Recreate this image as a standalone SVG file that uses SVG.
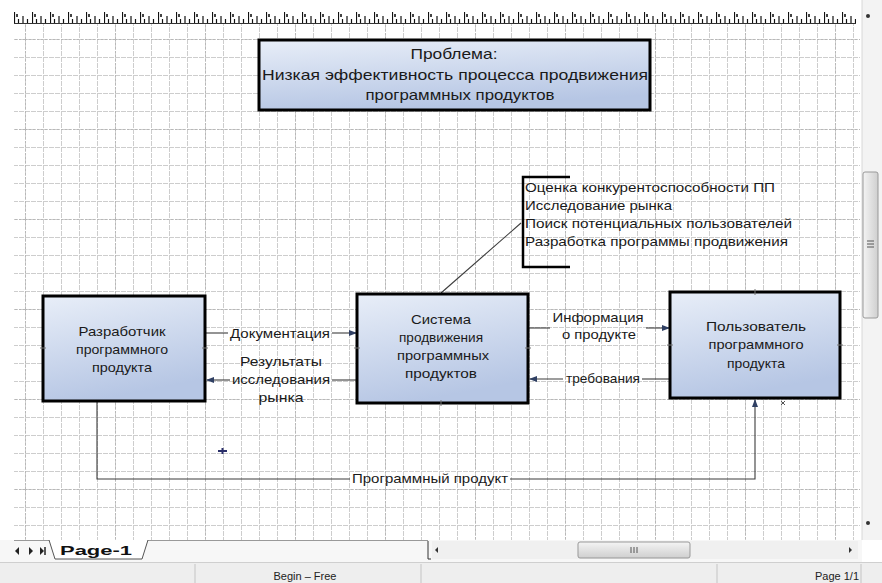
<svg xmlns="http://www.w3.org/2000/svg" width="882" height="583" viewBox="0 0 882 583">
  <defs>
    <style>
      .t { font-family: "Liberation Sans", Arial, sans-serif; font-size: 13px; fill: #1a1a1a; }
      .tb { font-family: "Liberation Sans", Arial, sans-serif; font-size: 15px; fill: #1a1a1a; }
      .box { fill: url(#boxGrad); stroke: #000; stroke-width: 3; }
      .conn { fill: none; stroke: #3c3c3c; stroke-width: 1.1; }
      .cp { stroke: #777; stroke-width: 1; }
      .ui { font-family: "Liberation Sans", Arial, sans-serif; font-size: 11px; fill: #222; }
    </style>
    <linearGradient id="boxGrad" x1="0" y1="0" x2="0.3" y2="1">
      <stop offset="0" stop-color="#e8eef8"/>
      <stop offset="1" stop-color="#b6c6e4"/>
    </linearGradient>
    <linearGradient id="thumbH" x1="0" y1="0" x2="0" y2="1">
      <stop offset="0" stop-color="#f4f4f4"/>
      <stop offset="1" stop-color="#cfcfcf"/>
    </linearGradient>
    <linearGradient id="thumbV" x1="0" y1="0" x2="1" y2="0">
      <stop offset="0" stop-color="#f4f4f4"/>
      <stop offset="1" stop-color="#cfcfcf"/>
    </linearGradient>
    <pattern id="grid" x="25" y="39" width="18" height="18" patternUnits="userSpaceOnUse">
      <path d="M0.5,0 V18 M0,0.5 H18" stroke="#cdcdcd" stroke-width="1" stroke-dasharray="5,1" fill="none"/>
    </pattern>
    <pattern id="gridMajor" x="25" y="39" width="90" height="90" patternUnits="userSpaceOnUse">
      <path d="M0.5,0 V90 M0,0.5 H90" stroke="#b8b8b8" stroke-width="1" stroke-dasharray="2,2" fill="none"/>
    </pattern>
    <pattern id="ruler" x="14" y="12" width="18" height="12" patternUnits="userSpaceOnUse">
      <path d="M0.5,0 V11 M4.5,7 V11 M9,4 V11 M13.5,7 V11" stroke="#111" stroke-width="1.2" fill="none"/>
      <path d="M2,2 h2 v3 h-2z" fill="#444"/>
    </pattern>
    <marker id="arr" markerWidth="8" markerHeight="8" refX="7" refY="4" orient="auto" markerUnits="userSpaceOnUse">
      <path d="M0,1 L8,4 L0,7 z" fill="#2f3f63"/>
    </marker>
  </defs>

  <!-- background -->
  <rect x="0" y="0" width="882" height="583" fill="#ffffff"/>
  <rect x="14" y="24" width="846" height="516" fill="url(#grid)"/>
  <rect x="14" y="24" width="846" height="516" fill="url(#gridMajor)"/>
  <!-- ruler -->
  <rect x="14" y="12" width="842" height="12" fill="url(#ruler)"/>
  <line x1="14" y1="23.5" x2="856" y2="23.5" stroke="#333" stroke-width="1"/>

  <!-- right scrollbar -->
  <g id="vscroll">
    <rect x="862" y="0" width="20" height="540" fill="#f3f3f3"/>
    <line x1="862" y1="0" x2="862" y2="540" stroke="#d8d8d8"/>
    <circle cx="868" cy="16" r="2" fill="#333"/>
    <rect x="863" y="172" width="15" height="146" rx="2" fill="url(#thumbV)" stroke="#999"/>
    <path d="M867,241 h7 M867,244 h7 M867,247 h7" stroke="#555" stroke-width="1"/>
    <circle cx="868" cy="523" r="2" fill="#333"/>
  </g>

  <!-- connectors -->
  <g id="connectors">
    <line class="conn" x1="206" y1="333" x2="228" y2="333"/>
    <line class="conn" x1="332" y1="333" x2="356" y2="333" marker-end="url(#arr)"/>
    <line class="conn" x1="356" y1="380" x2="332" y2="380"/>
    <line class="conn" x1="230" y1="380" x2="207" y2="380" marker-end="url(#arr)"/>
    <line class="conn" x1="529" y1="328" x2="550" y2="328"/>
    <line class="conn" x1="646" y1="328" x2="669" y2="328" marker-end="url(#arr)"/>
    <line class="conn" x1="669" y1="379" x2="642" y2="379"/>
    <line class="conn" x1="563" y1="379" x2="530" y2="379" marker-end="url(#arr)"/>
    <path class="conn" d="M97,402 V479 H350"/>
    <path class="conn" d="M510,479 H755 V400" marker-end="url(#arr)"/>
    <line class="conn" x1="441" y1="293" x2="521" y2="223"/>
  </g>

  <!-- connector labels -->
  <g id="labels">
    <text class="t" x="280" y="338" text-anchor="middle" textLength="100" lengthAdjust="spacingAndGlyphs">Документация</text>
    <text class="t" x="281" y="366" text-anchor="middle" textLength="82" lengthAdjust="spacingAndGlyphs">Результаты</text>
    <text class="t" x="281" y="384" text-anchor="middle" textLength="98" lengthAdjust="spacingAndGlyphs">исследования</text>
    <text class="t" x="281" y="402" text-anchor="middle" textLength="45" lengthAdjust="spacingAndGlyphs">рынка</text>
    <text class="t" x="598" y="322" text-anchor="middle" textLength="91" lengthAdjust="spacingAndGlyphs">Информация</text>
    <text class="t" x="599" y="339" text-anchor="middle" textLength="74" lengthAdjust="spacingAndGlyphs">о продукте</text>
    <text class="t" x="603" y="383" text-anchor="middle" textLength="74" lengthAdjust="spacingAndGlyphs">требования</text>
    <text class="t" x="430" y="483" text-anchor="middle" textLength="156" lengthAdjust="spacingAndGlyphs">Программный продукт</text>
  </g>

  <!-- Problem node -->
  <g id="problem">
    <rect class="box" x="259" y="40" width="391" height="70"/>
    <text class="tb" x="454" y="59" text-anchor="middle" textLength="87" lengthAdjust="spacingAndGlyphs">Проблема:</text>
    <text class="tb" x="455" y="80" text-anchor="middle" textLength="386" lengthAdjust="spacingAndGlyphs">Низкая эффективность процесса продвижения</text>
    <text class="tb" x="460" y="100" text-anchor="middle" textLength="189" lengthAdjust="spacingAndGlyphs">программных продуктов</text>
  </g>

  <!-- Annotation bracket -->
  <g id="annotation">
    <path d="M570,177 H523 V267 H570" fill="none" stroke="#000" stroke-width="2.5"/>
    <text class="t" x="525" y="192" textLength="250" lengthAdjust="spacingAndGlyphs">Оценка конкурентоспособности ПП</text>
    <text class="t" x="525" y="210" textLength="147" lengthAdjust="spacingAndGlyphs">Исследование рынка</text>
    <text class="t" x="525" y="228" textLength="267" lengthAdjust="spacingAndGlyphs">Поиск потенциальных пользователей</text>
    <text class="t" x="525" y="246" textLength="263" lengthAdjust="spacingAndGlyphs">Разработка программы продвижения</text>
  </g>

  <!-- Developer node -->
  <g id="developer">
    <rect class="box" x="43" y="296" width="162" height="105"/>
    <text class="t" x="122" y="336" text-anchor="middle" textLength="87" lengthAdjust="spacingAndGlyphs">Разработчик</text>
    <text class="t" x="122" y="354" text-anchor="middle" textLength="92" lengthAdjust="spacingAndGlyphs">программного</text>
    <text class="t" x="122" y="372" text-anchor="middle" textLength="60" lengthAdjust="spacingAndGlyphs">продукта</text>
    <path class="cp" d="M40,348 h6 M202,348 h6"/>
  </g>

  <!-- System node -->
  <g id="system">
    <rect class="box" x="357" y="294" width="171" height="109"/>
    <text class="t" x="441" y="324" text-anchor="middle" textLength="60" lengthAdjust="spacingAndGlyphs">Система</text>
    <text class="t" x="441" y="342" text-anchor="middle" textLength="84" lengthAdjust="spacingAndGlyphs">продвижения</text>
    <text class="t" x="443" y="360" text-anchor="middle" textLength="92" lengthAdjust="spacingAndGlyphs">программных</text>
    <text class="t" x="441" y="378" text-anchor="middle" textLength="72" lengthAdjust="spacingAndGlyphs">продуктов</text>
    <path class="cp" d="M354,348 h6 M525,348 h6 M441,400 v6"/>
  </g>

  <!-- User node -->
  <g id="user">
    <rect class="box" x="670" y="292" width="170" height="106"/>
    <text class="t" x="756" y="331" text-anchor="middle" textLength="100" lengthAdjust="spacingAndGlyphs">Пользователь</text>
    <text class="t" x="756" y="349" text-anchor="middle" textLength="95" lengthAdjust="spacingAndGlyphs">программного</text>
    <text class="t" x="756" y="368" text-anchor="middle" textLength="58" lengthAdjust="spacingAndGlyphs">продукта</text>
    <path class="cp" d="M755,289 v6 M837,345 h6 M667,345 h6"/>
  </g>

  <!-- small marks -->
  <path d="M218,451 h9 M222.5,448 v6" stroke="#2a2f6a" stroke-width="2"/>
  <path d="M781,401 l4,4 M785,401 l-4,4" stroke="#555" stroke-width="1"/>

  <!-- bottom tab bar -->
  <g id="tabbar">
    <rect x="0" y="540" width="862" height="22" fill="#f7f7f7"/>
    <line x1="14" y1="540.5" x2="428" y2="540.5" stroke="#999"/>
    <path d="M19,547 l-4,4 l4,4 z M29,547 l4,4 l-4,4 z" fill="#222"/>
    <path d="M40,547 l4,4 l-4,4 z" fill="#222"/>
    <line x1="45" y1="547" x2="45" y2="555" stroke="#222" stroke-width="1.5"/>
    <path d="M49,540 L55,559 H142 L148,540" fill="#fff" stroke="#555"/>
    <text x="60" y="555" font-family="Liberation Sans, Arial, sans-serif" font-size="13" font-weight="bold" fill="#111" textLength="72" lengthAdjust="spacingAndGlyphs">Page-1</text>
    <path d="M428,541 V559 h3" fill="none" stroke="#333"/>
    <rect x="432" y="541" width="426" height="18" fill="#f0f0f0"/>
    <path d="M438,547 l-3,3 l3,3 z" fill="#333"/>
    <rect x="578" y="542" width="112" height="16" rx="2" fill="url(#thumbH)" stroke="#999"/>
    <path d="M631,547 v6 M634,547 v6 M637,547 v6" stroke="#555"/>
    <path d="M849,547 l3,3 l-3,3 z" fill="#333"/>
  </g>

  <!-- status bar -->
  <g id="statusbar">
    <rect x="0" y="562" width="882" height="21" fill="#eeeeee"/>
    <line x1="0" y1="562.5" x2="882" y2="562.5" stroke="#cfcfcf"/>
    <path d="M195,564 V583 M421,564 V583 M717,564 V583 M861,564 V583" stroke="#c4c4c4"/>
    <text class="ui" x="305" y="580" text-anchor="middle">Begin – Free</text>
    <text class="ui" x="837" y="580" text-anchor="middle">Page 1/1</text>
  </g>
</svg>
